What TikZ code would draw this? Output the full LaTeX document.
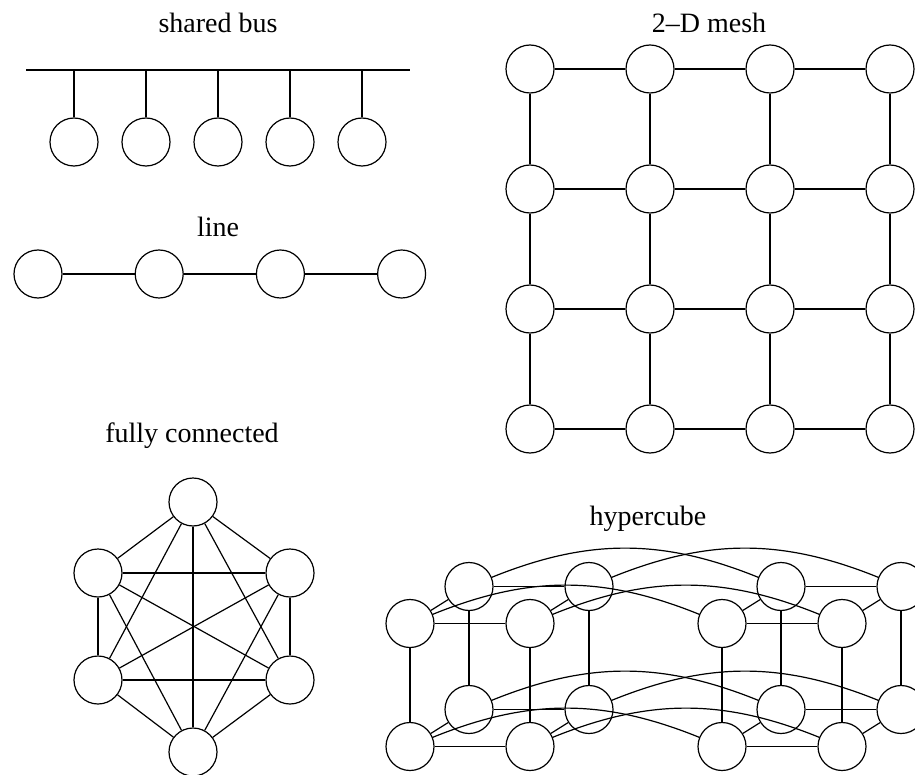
\documentclass[tikz,border=0pt]{standalone}
\usepackage{fontspec}
\setmainfont{Liberation Serif}
\usepackage{tikz}
\usetikzlibrary{positioning}
\tikzstyle{proc} = [
    circle, draw, line width=0.6pt,
    minimum size=24pt, inner sep=0pt % one processor
]
\tikzstyle{title} = [
    anchor=base, inner sep=0pt,
    font=\fontsize{14}{16}\selectfont
]
\tikzstyle{link} = [line width=0.6pt]

\begin{document}
\begin{tikzpicture}[x=0.5pt, y=-0.5pt]
        \useasboundingbox (0,0) rectangle (915,775);

        % Shared bus
        \node[title] (bustitle) at (218,33) {shared bus};
        \coordinate (busL) at (26,70);
        \coordinate (busR) at (410,70);
        \draw[link] (busL) -- (busR);
        \foreach \i in {1,...,5} {
            \node[proc] (bus\i) at (2+72*\i,142) {};
            \draw[link] (bus\i) -- (bus\i |- busL);
        }

        % Line
        \node[title] (linetitle) at (218,237) {line};
        \node[proc] (line1) at (38,274) {};
        \node[proc] (line2) [right=36pt of line1] {};
        \node[proc] (line3) [right=36pt of line2] {};
        \node[proc] (line4) [right=36pt of line3] {};
        \draw[link] (line1) -- (line2) -- (line3) -- (line4);

        % 2-D mesh
        \node[title] (meshtitle) at (709,33) {2--D mesh};
        \foreach \r in {0,...,3}
            \foreach \c in {0,...,3}
                \node[proc] (mesh-\r-\c) at (530+120*\c,69+120*\r) {};
        \foreach \r in {0,...,3}
            \foreach \c/\d in {0/1,1/2,2/3} {
                \draw[link] (mesh-\r-\c) -- (mesh-\r-\d); % across
                \draw[link] (mesh-\c-\r) -- (mesh-\d-\r); % down
            }

        % Fully connected
        \node[title] (fulltitle) at (192,442) {fully connected};
        \node[proc] (full1) at (193,502) {};
        \node[proc] (full2) at (290,573) {};
        \node[proc] (full3) at (290,680) {};
        \node[proc] (full4) at (193,752) {};
        \node[proc] (full5) at (98,680) {};
        \node[proc] (full6) at (98,573) {};
        \foreach \a/\b in {1/2,1/3,1/4,1/5,1/6,2/3,2/4,2/5,2/6,3/4,3/5,3/6,4/5,4/6,5/6}
            \draw[link] (full\a) -- (full\b);

        % Hypercube: cube, depth (front/back), level (top/bottom), side (left/right)
        \node[title] (cubetitle) at (648,525) {hypercube};
        \foreach \c in {0,1}
            \foreach \d in {0,1}
                \foreach \v in {0,1}
                    \foreach \u in {0,1}
                        \node[proc] (cube-\c-\d-\v-\u) at (410+312*\c+59*\d+120*\u,623.5-37*\d+123*\v) {};
        \foreach \c in {0,1}
            \foreach \a in {0,1}
                \foreach \b in {0,1} {
                    \draw[link] (cube-\c-\a-\b-0) -- (cube-\c-\a-\b-1); % across
                    \draw[link] (cube-\c-\a-0-\b) -- (cube-\c-\a-1-\b); % down
                    \draw[link] (cube-\c-0-\a-\b) -- (cube-\c-1-\a-\b); % depth
                }
        \foreach \d in {0,1}
            \foreach \v in {0,1}
                \foreach \u in {0,1}
                    \draw[link] (cube-0-\d-\v-\u) to[bend left=22] (cube-1-\d-\v-\u);

    \end{tikzpicture}
\end{document}
